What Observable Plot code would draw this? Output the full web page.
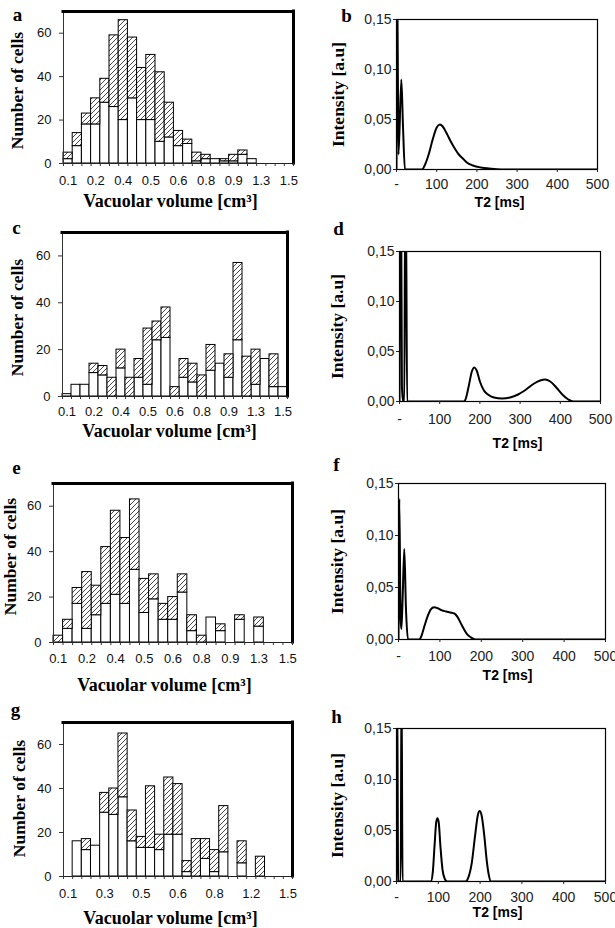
<!DOCTYPE html>
<html><head><meta charset="utf-8">
<script src="https://cdn.jsdelivr.net/npm/d3@7"></script>
<script src="https://cdn.jsdelivr.net/npm/@observablehq/plot@0.6"></script>
<style>
body{margin:0;background:#fff;}
#fig{position:relative;width:615px;height:928px;overflow:hidden;background:#fff;}
.panel{position:absolute;}
.panel svg{overflow:visible;}
</style></head><body><div id="fig"></div>
<script>
// ---------- histogram data (25 bins each) ----------
const labelsA = ["0.1","0.2","0.4","0.5","0.6","0.8","0.9","1.3","1.5"];
const totalA = [5,14,23,30,39,59,66,58,44,50,42,28,15,11,5,4,2,2,4,6,2,0,0,0,0];
const whiteA = [2,8,18,18,28,26,20,30,20,20,10,12,8,9,1,2,2,1,1,4,2,0,0,0,0];

const labelsC = ["0.1","0.2","0.4","0.5","0.6","0.8","0.9","1.3","1.5"];
const totalC = [1,5,5,14,13,8,20,8,16,29,32,38,4,16,14,9,22,14,18,57,17,20,16,18,4];
const whiteC = [1,5,5,10,9,0,12,0,8,5,24,25,0,8,6,0,11,14,8,24,0,5,16,4,4];

const labelsE = ["0.1","0.2","0.4","0.5","0.6","0.8","0.9","1.3","1.5"];
const totalE = [3,10,24,31,25,42,58,46,63,28,30,17,20,30,12,3,11,8,0,12,0,11,0,0,0];
const whiteE = [0,6,17,6,12,17,21,17,32,13,19,10,10,22,5,0,11,5,0,10,0,7,0,0,0];

const labelsG = ["0.1","0.3","0.5","0.6","0.8","1.2","1.5"];
const totalG = [0,16,17,14,38,40,65,30,18,41,19,45,42,7,17,17,12,32,0,16,0,9,0,0,0];
const whiteG = [0,16,12,14,29,28,36,16,13,13,12,19,19,2,0,8,2,11,0,6,0,0,0,0,0];

const countTicks = [0,20,40,60];

// ---------- T2 distributions [T2 ms, intensity] ----------
const curveB = [[0,0],[1.5,0.2],[5,0.015],[12,0.09],[16,0.045],[21,0],[64,0],[70,0.004],[80,0.015],[90,0.03],[100,0.042],[108,0.045],[115,0.043],[125,0.036],[135,0.028],[145,0.021],[155,0.015],[165,0.011],[175,0.007],[190,0.004],[210,0.002],[230,0.001],[260,0],[500,0]];
const curveD = [[0,0],[2,0.2],[4,0.2],[6,0.015],[9,0],[12,0],[14,0.2],[16,0.2],[19,0],[160,0],[165,0.003],[172,0.015],[180,0.03],[186,0.034],[192,0.031],[200,0.02],[210,0.011],[220,0.007],[235,0.004],[255,0.003],[275,0.004],[295,0.007],[315,0.012],[335,0.018],[350,0.021],[362,0.022],[375,0.02],[390,0.014],[405,0.007],[420,0.002],[432,0],[500,0]];
const curveF = [[0,0],[2,0.135],[5,0.02],[7,0.01],[10,0.04],[14,0.087],[18,0.03],[23,0],[50,0],[55,0.003],[62,0.012],[70,0.022],[78,0.029],[86,0.031],[95,0.03],[105,0.028],[115,0.027],[125,0.026],[135,0.025],[142,0.022],[150,0.016],[158,0.01],[166,0.005],[175,0.002],[186,0],[500,0]];
const curveH = [[0,0],[1.5,0.2],[4,0],[10,0],[12,0.2],[14.5,0],[82,0],[87,0.01],[91,0.035],[95,0.058],[98,0.062],[101,0.058],[105,0.035],[110,0.012],[115,0.003],[121,0],[165,0],[172,0.004],[180,0.018],[188,0.045],[195,0.066],[199,0.069],[204,0.064],[210,0.045],[216,0.02],[221,0.006],[226,0],[500,0]];

const t2Ticks = [0,100,200,300,400,500];
const intTicks = [0,0.05,0.10,0.15];

const serif = "'Liberation Serif','Times New Roman',serif";
const sans = "'Liberation Sans',Arial,sans-serif";
const fig = document.getElementById("fig");

function place(svg, sx, sy){
  const d = document.createElement("div");
  d.className = "panel"; d.style.left = sx+"px"; d.style.top = sy+"px";
  d.appendChild(svg); fig.appendChild(d);
}
// text centred on a page position, expressed relative to the frame's top-left corner
function lab(txt, cx, cy, fx0, fy0, o){
  return Plot.text([txt], Object.assign({frameAnchor:"top-left", dx: cx-fx0, dy: cy-fy0,
    textAnchor:"middle", lineAnchor:"middle",
    fontFamily: serif, fontWeight:"bold", fill:"black"}, o));
}

function hist(p){
  const [fx0,fx1,fy0,fy1] = p.frame;
  const n = p.total.length;
  const rows = p.total.map((t,i)=>({i, t, w:p.white[i]}));
  const pid = "hatch-"+p.letter;
  const labTicks = p.labels.map((_,k)=>k*p.step+0.5);
  const svg = Plot.plot({
    width:p.W, height:p.H,
    marginLeft: fx0-p.sx, marginRight: p.sx+p.W-fx1, marginTop: fy0-p.sy, marginBottom: p.sy+p.H-fy1,
    x:{domain:[0,n], label:null}, y:{domain:[0,70], label:null},
    style:{fontFamily:sans, fontSize:"13px", color:"#111", background:"transparent"},
    marks:[
      Plot.rect(rows.filter(d=>d.w>0), {x1:"i", x2:d=>d.i+1, y1:0, y2:"w", fill:"white", stroke:"black", strokeWidth:1}),
      Plot.rect(rows.filter(d=>d.t>d.w), {x1:"i", x2:d=>d.i+1, y1:"w", y2:"t", fill:`url(#${pid})`, stroke:"black", strokeWidth:1}),
      Plot.ruleX([0], {stroke:"#333"}),
      Plot.ruleY([0], {stroke:"#222"}),
      Plot.ruleY([70], {stroke:"black", strokeWidth:3, strokeLinecap:"square"}),
      Plot.ruleX([n], {stroke:"black", strokeWidth:3, strokeLinecap:"square"}),
      Plot.axisX({ticks:d3.range(n+1), tickFormat:()=> "", tickSize:3, stroke:"#333", label:null}),
      Plot.axisX({ticks:labTicks, tickFormat:d=>p.labels[Math.round((d-0.5)/p.step)], tickSize:0, tickPadding:p.tickPad, fill:"#111", label:null}),
      Plot.axisY({ticks:countTicks, tickSize:4, tickPadding:8, stroke:"#333", fill:"#111", label:null}),
      lab(p.letter, p.letterPos[0], p.letterPos[1], fx0, fy0, {fontSize:19}),
      lab("Number of cells", p.yPos[0], p.yPos[1], fx0, fy0, {fontSize:17.5, rotate:-90}),
      lab("Vacuolar volume [cm³]", p.xPos[0], p.xPos[1], fx0, fy0, {fontSize:18})
    ]
  });
  const defs = document.createElementNS("http://www.w3.org/2000/svg","defs");
  defs.innerHTML = `<pattern id="${pid}" patternUnits="userSpaceOnUse" width="5" height="5"><rect width="5" height="5" fill="white"/><path d="M-1,1 l2,-2 M0,5 l5,-5 M4,6 l2,-2" stroke="#333" stroke-width="0.9"/></pattern>`;
  svg.insertBefore(defs, svg.firstChild);
  place(svg, p.sx, p.sy);
}

function t2(p){
  const [fx0,fx1,fy0,fy1] = p.frame;
  const svg = Plot.plot({
    width:p.W, height:p.H,
    marginLeft: fx0-p.sx, marginRight: p.sx+p.W-fx1, marginTop: fy0-p.sy, marginBottom: p.sy+p.H-fy1,
    x:{domain:[0,500], label:null}, y:{domain:[0,0.15], label:null},
    style:{fontFamily:sans, fontSize:"14px", color:"#222", background:"transparent"},
    marks:[
      Plot.line(p.data, {x:d=>d[0], y:d=>d[1], stroke:"black", strokeWidth:2, curve:"monotone-x", clip:true}),
      Plot.frame({stroke:"black", strokeWidth:1.2}),
      Plot.axisX({ticks:t2Ticks, tickFormat:d=> d===0 ? "-" : String(d), tickSize:3, tickPadding:p.tickPad, stroke:"#222", label:null}),
      Plot.axisY({ticks:intTicks, tickFormat:d=>d.toFixed(2).replace(".", ","), tickSize:3, tickPadding:2, stroke:"#222", label:null}),
      lab(p.letter, p.letterPos[0], p.letterPos[1], fx0, fy0, {fontSize:19}),
      lab("Intensity [a.u]", p.yPos[0], p.yPos[1], fx0, fy0, {fontSize:17.5, rotate:-90}),
      lab("T2 [ms]", p.xPos[0], p.xPos[1], fx0, fy0, {fontSize:14, fontFamily:sans})
    ]
  });
  place(svg, p.sx, p.sy);
}

hist({letter:"a", total:totalA, white:whiteA, labels:labelsA, step:3, sx:0, sy:0, W:305, H:215,
  frame:[63,293,11,163], tickPad:12, letterPos:[17,14], yPos:[16.5,90], xPos:[170,201]});
hist({letter:"c", total:totalC, white:whiteC, labels:labelsC, step:3, sx:0, sy:220, W:305, H:225,
  frame:[62,287,232,396], tickPad:10, letterPos:[16,227], yPos:[16.5,317], xPos:[169,431]});
hist({letter:"e", total:totalE, white:whiteE, labels:labelsE, step:3, sx:0, sy:455, W:305, H:240,
  frame:[53,292,483,642], tickPad:11, letterPos:[16,467], yPos:[10,556], xPos:[164,685]});
hist({letter:"g", total:totalG, white:whiteG, labels:labelsG, step:4, sx:0, sy:695, W:305, H:233,
  frame:[63,292,722,876], tickPad:12, letterPos:[15,709], yPos:[19,798], xPos:[170,918]});

t2({letter:"b", data:curveB, sx:310, sy:0, W:305, H:215, frame:[396,597,19,169], tickPad:7,
  letterPos:[346,15], yPos:[338,94], xPos:[499,202]});
t2({letter:"d", data:curveD, sx:310, sy:220, W:305, H:230, frame:[399,600,251,401], tickPad:10,
  letterPos:[338,228], yPos:[337,326], xPos:[517,443]});
t2({letter:"f", data:curveF, sx:310, sy:455, W:305, H:230, frame:[398,605,483,639], tickPad:9,
  letterPos:[336,464], yPos:[337,561], xPos:[507,675]});
t2({letter:"h", data:curveH, sx:310, sy:695, W:305, H:233, frame:[396,605,728,881], tickPad:8,
  letterPos:[336,716], yPos:[337,805], xPos:[497,912]});
</script></body></html>
